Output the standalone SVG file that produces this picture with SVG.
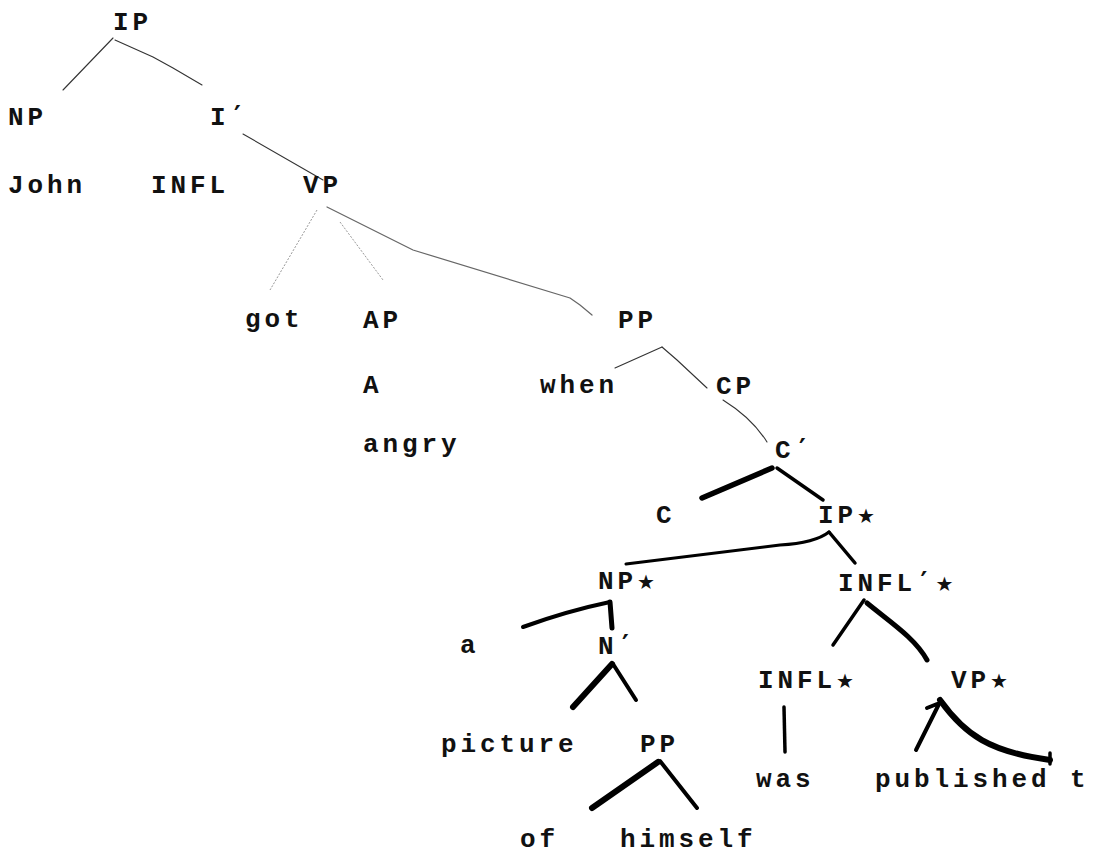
<svg xmlns="http://www.w3.org/2000/svg" width="1093" height="855" viewBox="0 0 1093 855">
<style>
.t{font-family:"Liberation Mono","DejaVu Sans Mono",monospace;font-size:26px;letter-spacing:3.9px;fill:#111;font-weight:bold}
.s{font-family:"DejaVu Sans",sans-serif;font-size:20px;letter-spacing:0}
.p{font-family:"DejaVu Sans Mono",monospace;font-weight:bold}
.thin{fill:none;stroke:#333;stroke-width:1.1;stroke-linecap:round;stroke-linejoin:round}
.faint{fill:none;stroke:#999;stroke-width:1;stroke-dasharray:2 1.5}
.mid{fill:none;stroke:#666;stroke-width:1.2;stroke-linecap:round;stroke-linejoin:round}
.k{fill:none;stroke:#000;stroke-linecap:round;stroke-linejoin:round}
</style>
<rect width="1093" height="855" fill="#fff"/>
<g id="connectors">
<path class="thin" d="M113,38 L63,90"/>
<path class="thin" d="M115,40 L153,57 L173,68 L202,85"/>
<path class="thin" d="M243,134 L323,180"/>
<path class="faint" d="M317,210 L270,290"/>
<path class="faint" d="M340,222 L383,280"/>
<path class="mid" d="M327,207 L413,250 L570,298 L580,305 L592,315"/>
<path class="thin" d="M615,368 L662,347"/>
<path class="thin" d="M662,347 L677,360 L707,388"/>
<path class="thin" d="M723,400 Q752,418 767,442"/>
<path class="k" stroke-width="5.5" d="M772,468 L702,498"/>
<path class="k" stroke-width="3.5" d="M777,468 L823,500"/>
<path class="k" stroke-width="3" d="M829,532 Q815,543 780,545 L626,564"/>
<path class="k" stroke-width="3.5" d="M829,532 L855,563"/>
<path class="k" stroke-width="4" d="M610,602 Q567,611 523,627"/>
<path class="k" stroke-width="5" d="M610,602 L612,628"/>
<path class="k" stroke-width="6" d="M612,664 L573,707"/>
<path class="k" stroke-width="4" d="M613,664 L636,700"/>
<path class="k" stroke-width="6" d="M658,762 L592,808"/>
<path class="k" stroke-width="4" d="M660,761 L697,808"/>
<path class="k" stroke-width="3.5" d="M864,600 L833,645"/>
<path class="k" stroke-width="5" d="M867,603 C890,622 915,638 927,660"/>
<path class="k" stroke-width="3.5" d="M784,707 L785,752"/>
<path class="k" stroke-width="4" d="M940,702 L916,750 M927,708 L937,704"/>
<path class="k" stroke-width="6" d="M940,700 C965,735 990,752 1050,760"/>
<path class="k" stroke-width="3.5" d="M1050,753 L1050,764"/>
</g>
<g id="n-IP"><text class="t" x="113" y="30">IP</text></g>
<g id="n-NP"><text class="t" x="8" y="125">NP</text></g>
<g id="n-Ibar"><text class="t" x="210" y="125">I<tspan class="p">′</tspan></text></g>
<g id="n-John"><text class="t" x="8" y="193">John</text></g>
<g id="n-INFL"><text class="t" x="151" y="193">INFL</text></g>
<g id="n-VP"><text class="t" x="303" y="193">VP</text></g>
<g id="n-got"><text class="t" x="245" y="327">got</text></g>
<g id="n-AP"><text class="t" x="363" y="328">AP</text></g>
<g id="n-PP1"><text class="t" x="618" y="328">PP</text></g>
<g id="n-A"><text class="t" x="363" y="393">A</text></g>
<g id="n-when"><text class="t" x="540" y="393">when</text></g>
<g id="n-CP"><text class="t" x="716" y="394">CP</text></g>
<g id="n-angry"><text class="t" x="363" y="452">angry</text></g>
<g id="n-Cbar"><text class="t" x="775" y="458">C<tspan class="p">′</tspan></text></g>
<g id="n-C"><text class="t" x="656" y="523">C</text></g>
<g id="n-IPs"><text class="t" x="818" y="523">IP<tspan class="s">★</tspan></text></g>
<g id="n-NPs"><text class="t" x="598" y="589">NP<tspan class="s">★</tspan></text></g>
<g id="n-INFLbar"><text class="t" x="838" y="591">INFL<tspan class="p">′</tspan><tspan class="s">★</tspan></text></g>
<g id="n-a"><text class="t" x="460" y="653">a</text></g>
<g id="n-Nbar"><text class="t" x="598" y="654">N<tspan class="p">′</tspan></text></g>
<g id="n-INFLs"><text class="t" x="758" y="688">INFL<tspan class="s">★</tspan></text></g>
<g id="n-VPs"><text class="t" x="951" y="688">VP<tspan class="s">★</tspan></text></g>
<g id="n-picture"><text class="t" x="441" y="752">picture</text></g>
<g id="n-PP2"><text class="t" x="640" y="752">PP</text></g>
<g id="n-was"><text class="t" x="756" y="787">was</text></g>
<g id="n-published"><text class="t" x="875" y="787">published t</text></g>
<g id="n-of"><text class="t" x="520" y="847">of</text></g>
<g id="n-himself"><text class="t" x="620" y="847">himself</text></g>
</svg>
